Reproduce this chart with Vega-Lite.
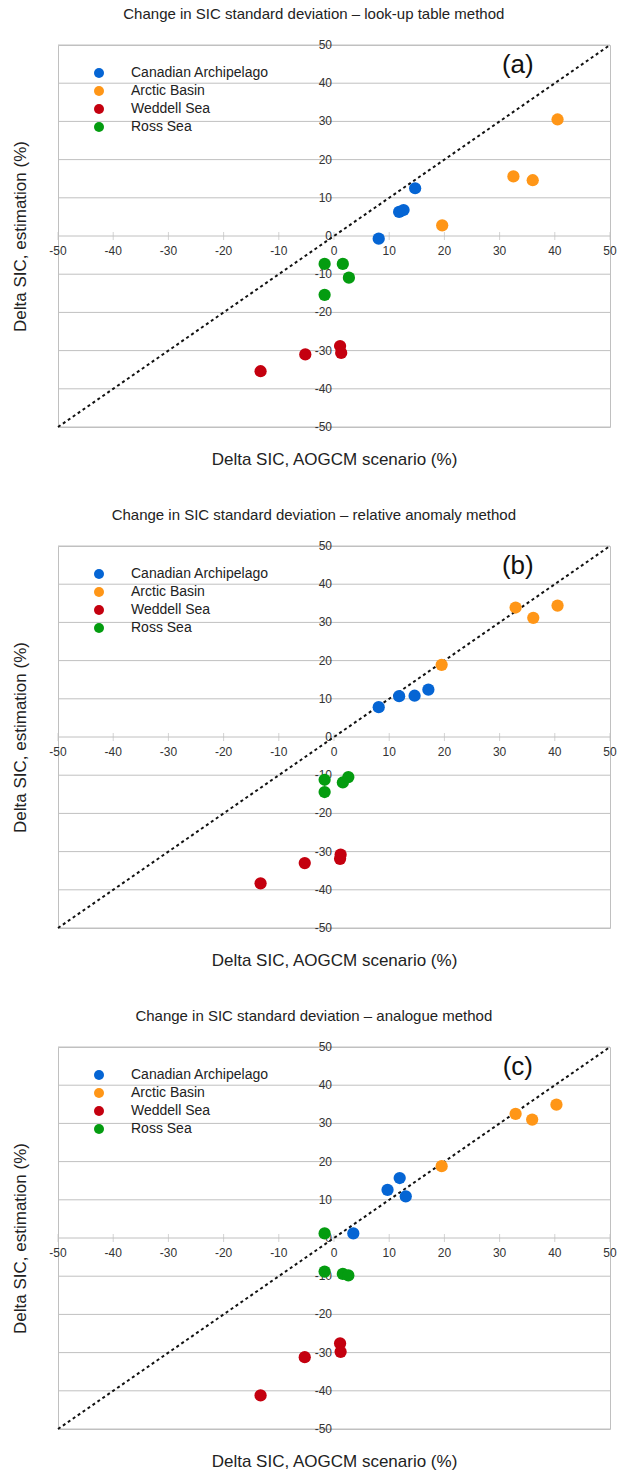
{
  "$schema": "https://vega.github.io/schema/vega-lite/v6.json",
  "padding": {"left": 10, "top": 6, "right": 5, "bottom": 0},
  "background": "white",
  "spacing": 39,
  "config": {
    "font": "Liberation Sans",
    "view": {"stroke": "#c0c0c0", "strokeWidth": 1},
    "title": {"fontSize": 15, "fontWeight": "normal", "color": "#222222", "frame": "bounds", "anchor": "middle", "offset": 17},
    "legend": {"labelFontSize": 14, "labelColor": "#222222", "symbolSize": 100, "labelOffset": 25, "rowPadding": 4, "symbolType": "circle", "symbolStrokeWidth": 0}
  },
  "datasets": {
    "pts": [
      {"panel": "a", "region": "Canadian Archipelago", "x": 14.7, "y": 12.5},
      {"panel": "a", "region": "Canadian Archipelago", "x": 11.8, "y": 6.3},
      {"panel": "a", "region": "Canadian Archipelago", "x": 12.6, "y": 6.8},
      {"panel": "a", "region": "Canadian Archipelago", "x": 8.1, "y": -0.7},
      {"panel": "a", "region": "Arctic Basin", "x": 40.5, "y": 30.5},
      {"panel": "a", "region": "Arctic Basin", "x": 32.5, "y": 15.6},
      {"panel": "a", "region": "Arctic Basin", "x": 36.0, "y": 14.6},
      {"panel": "a", "region": "Arctic Basin", "x": 19.6, "y": 2.8},
      {"panel": "a", "region": "Weddell Sea", "x": 1.1, "y": -28.8},
      {"panel": "a", "region": "Weddell Sea", "x": 1.3, "y": -30.6},
      {"panel": "a", "region": "Weddell Sea", "x": -5.2, "y": -31.0},
      {"panel": "a", "region": "Weddell Sea", "x": -13.3, "y": -35.4},
      {"panel": "a", "region": "Ross Sea", "x": -1.7, "y": -7.3},
      {"panel": "a", "region": "Ross Sea", "x": 1.6, "y": -7.3},
      {"panel": "a", "region": "Ross Sea", "x": 2.7, "y": -10.9},
      {"panel": "a", "region": "Ross Sea", "x": -1.7, "y": -15.4},
      {"panel": "b", "region": "Canadian Archipelago", "x": 8.1, "y": 7.8},
      {"panel": "b", "region": "Canadian Archipelago", "x": 11.8, "y": 10.7},
      {"panel": "b", "region": "Canadian Archipelago", "x": 14.6, "y": 10.8},
      {"panel": "b", "region": "Canadian Archipelago", "x": 17.1, "y": 12.4},
      {"panel": "b", "region": "Arctic Basin", "x": 19.5, "y": 18.9},
      {"panel": "b", "region": "Arctic Basin", "x": 32.9, "y": 33.9},
      {"panel": "b", "region": "Arctic Basin", "x": 36.1, "y": 31.2},
      {"panel": "b", "region": "Arctic Basin", "x": 40.5, "y": 34.4},
      {"panel": "b", "region": "Weddell Sea", "x": 1.2, "y": -30.8},
      {"panel": "b", "region": "Weddell Sea", "x": 1.1, "y": -31.9},
      {"panel": "b", "region": "Weddell Sea", "x": -5.3, "y": -33.0},
      {"panel": "b", "region": "Weddell Sea", "x": -13.3, "y": -38.3},
      {"panel": "b", "region": "Ross Sea", "x": -1.7, "y": -11.2},
      {"panel": "b", "region": "Ross Sea", "x": -1.7, "y": -14.4},
      {"panel": "b", "region": "Ross Sea", "x": 1.6, "y": -11.9},
      {"panel": "b", "region": "Ross Sea", "x": 2.6, "y": -10.5},
      {"panel": "c", "region": "Canadian Archipelago", "x": 3.5, "y": 1.2},
      {"panel": "c", "region": "Canadian Archipelago", "x": 9.7, "y": 12.6},
      {"panel": "c", "region": "Canadian Archipelago", "x": 11.9, "y": 15.7},
      {"panel": "c", "region": "Canadian Archipelago", "x": 13.0, "y": 10.9},
      {"panel": "c", "region": "Arctic Basin", "x": 19.5, "y": 18.8},
      {"panel": "c", "region": "Arctic Basin", "x": 32.9, "y": 32.5},
      {"panel": "c", "region": "Arctic Basin", "x": 35.9, "y": 31.0},
      {"panel": "c", "region": "Arctic Basin", "x": 40.3, "y": 34.9},
      {"panel": "c", "region": "Weddell Sea", "x": 1.1, "y": -27.6},
      {"panel": "c", "region": "Weddell Sea", "x": 1.2, "y": -29.8},
      {"panel": "c", "region": "Weddell Sea", "x": -5.3, "y": -31.2},
      {"panel": "c", "region": "Weddell Sea", "x": -13.3, "y": -41.2},
      {"panel": "c", "region": "Ross Sea", "x": -1.7, "y": 1.2},
      {"panel": "c", "region": "Ross Sea", "x": -1.7, "y": -8.8},
      {"panel": "c", "region": "Ross Sea", "x": 1.6, "y": -9.4},
      {"panel": "c", "region": "Ross Sea", "x": 2.6, "y": -9.8}
    ],
    "diag": [{"v": -50}, {"v": 50}],
    "ticks": [{"v": -50}, {"v": -40}, {"v": -30}, {"v": -20}, {"v": -10}, {"v": 0}, {"v": 10}, {"v": 20}, {"v": 30}, {"v": 40}, {"v": 50}],
    "one": [{"k": 1}]
  },
  "vconcat": [
    {
      "width": 552, "height": 382,
      "title": "Change in SIC standard deviation – look-up table method",
      "layer": [
        {"data": {"name": "ticks"}, "mark": {"type": "rule", "color": "#c0c0c0", "strokeWidth": 1},
         "encoding": {"y": {"field": "v", "type": "quantitative", "scale": {"domain": [-50, 50], "nice": false},
           "axis": {"title": "Delta SIC, estimation (%)", "titleFontSize": 17, "titleFontWeight": "normal", "titleColor": "#222222", "titlePadding": 29, "labels": false, "ticks": false, "domain": false, "grid": false}},
           "x": {"datum": -50, "type": "quantitative", "scale": {"domain": [-50, 50], "nice": false},
           "axis": {"title": "Delta SIC, AOGCM scenario (%)", "titleFontSize": 17, "titleFontWeight": "normal", "titleColor": "#222222", "titlePadding": 24, "labels": false, "ticks": false, "domain": false, "grid": false}},
           "x2": {"datum": 50}}},
        {"mark": {"type": "rule", "color": "#c0c0c0", "strokeWidth": 1},
         "encoding": {"x": {"datum": 0, "type": "quantitative"}, "y": {"datum": -50, "type": "quantitative"}, "y2": {"datum": 50}}},
        {"data": {"name": "ticks"}, "mark": {"type": "tick", "color": "#c0c0c0", "size": 8, "orient": "vertical"},
         "encoding": {"x": {"field": "v", "type": "quantitative"}, "y": {"datum": 0, "type": "quantitative"}}},
        {"data": {"name": "ticks"}, "mark": {"type": "text", "fontSize": 12, "color": "#333333", "dy": 15, "align": "center"},
         "encoding": {"x": {"field": "v", "type": "quantitative"}, "y": {"datum": 0, "type": "quantitative"}, "text": {"field": "v", "type": "nominal"}}},
        {"data": {"name": "ticks"}, "mark": {"type": "text", "fontSize": 12, "color": "#333333", "dx": -2, "align": "right", "baseline": "middle"},
         "encoding": {"y": {"field": "v", "type": "quantitative"}, "x": {"datum": 0, "type": "quantitative"}, "text": {"field": "v", "type": "nominal"}}},
        {"data": {"name": "diag"}, "mark": {"type": "line", "color": "#111111", "strokeWidth": 2, "strokeDash": [3, 3]},
         "encoding": {"x": {"field": "v", "type": "quantitative"}, "y": {"field": "v", "type": "quantitative"}}},
        {"data": {"name": "pts"}, "transform": [{"filter": "datum.panel == 'a'"}],
         "mark": {"type": "circle", "size": 150, "opacity": 1},
         "encoding": {"x": {"field": "x", "type": "quantitative"}, "y": {"field": "y", "type": "quantitative"},
           "color": {"field": "region", "type": "nominal", "scale": {"domain": ["Canadian Archipelago", "Arctic Basin", "Weddell Sea", "Ross Sea"], "range": ["#0565d4", "#ff9617", "#c4000f", "#049c10"]},
             "legend": {"title": null, "orient": "none", "legendX": 34, "legendY": 21}}}},
        {"data": {"name": "one"}, "mark": {"type": "text", "fontSize": 26, "color": "#111111", "text": "(a)"},
         "encoding": {"x": {"datum": 33.3, "type": "quantitative"}, "y": {"datum": 44.8, "type": "quantitative"}}}
      ]
    },
    {
      "width": 552, "height": 382,
      "title": "Change in SIC standard deviation – relative anomaly method",
      "layer": [
        {"data": {"name": "ticks"}, "mark": {"type": "rule", "color": "#c0c0c0", "strokeWidth": 1},
         "encoding": {"y": {"field": "v", "type": "quantitative", "scale": {"domain": [-50, 50], "nice": false},
           "axis": {"title": "Delta SIC, estimation (%)", "titleFontSize": 17, "titleFontWeight": "normal", "titleColor": "#222222", "titlePadding": 29, "labels": false, "ticks": false, "domain": false, "grid": false}},
           "x": {"datum": -50, "type": "quantitative", "scale": {"domain": [-50, 50], "nice": false},
           "axis": {"title": "Delta SIC, AOGCM scenario (%)", "titleFontSize": 17, "titleFontWeight": "normal", "titleColor": "#222222", "titlePadding": 24, "labels": false, "ticks": false, "domain": false, "grid": false}},
           "x2": {"datum": 50}}},
        {"mark": {"type": "rule", "color": "#c0c0c0", "strokeWidth": 1},
         "encoding": {"x": {"datum": 0, "type": "quantitative"}, "y": {"datum": -50, "type": "quantitative"}, "y2": {"datum": 50}}},
        {"data": {"name": "ticks"}, "mark": {"type": "tick", "color": "#c0c0c0", "size": 8, "orient": "vertical"},
         "encoding": {"x": {"field": "v", "type": "quantitative"}, "y": {"datum": 0, "type": "quantitative"}}},
        {"data": {"name": "ticks"}, "mark": {"type": "text", "fontSize": 12, "color": "#333333", "dy": 15, "align": "center"},
         "encoding": {"x": {"field": "v", "type": "quantitative"}, "y": {"datum": 0, "type": "quantitative"}, "text": {"field": "v", "type": "nominal"}}},
        {"data": {"name": "ticks"}, "mark": {"type": "text", "fontSize": 12, "color": "#333333", "dx": -2, "align": "right", "baseline": "middle"},
         "encoding": {"y": {"field": "v", "type": "quantitative"}, "x": {"datum": 0, "type": "quantitative"}, "text": {"field": "v", "type": "nominal"}}},
        {"data": {"name": "diag"}, "mark": {"type": "line", "color": "#111111", "strokeWidth": 2, "strokeDash": [3, 3]},
         "encoding": {"x": {"field": "v", "type": "quantitative"}, "y": {"field": "v", "type": "quantitative"}}},
        {"data": {"name": "pts"}, "transform": [{"filter": "datum.panel == 'b'"}],
         "mark": {"type": "circle", "size": 150, "opacity": 1},
         "encoding": {"x": {"field": "x", "type": "quantitative"}, "y": {"field": "y", "type": "quantitative"},
           "color": {"field": "region", "type": "nominal", "scale": {"domain": ["Canadian Archipelago", "Arctic Basin", "Weddell Sea", "Ross Sea"], "range": ["#0565d4", "#ff9617", "#c4000f", "#049c10"]},
             "legend": {"title": null, "orient": "none", "legendX": 34, "legendY": 21}}}},
        {"data": {"name": "one"}, "mark": {"type": "text", "fontSize": 26, "color": "#111111", "text": "(b)"},
         "encoding": {"x": {"datum": 33.3, "type": "quantitative"}, "y": {"datum": 44.8, "type": "quantitative"}}}
      ]
    },
    {
      "width": 552, "height": 382,
      "title": "Change in SIC standard deviation – analogue method",
      "layer": [
        {"data": {"name": "ticks"}, "mark": {"type": "rule", "color": "#c0c0c0", "strokeWidth": 1},
         "encoding": {"y": {"field": "v", "type": "quantitative", "scale": {"domain": [-50, 50], "nice": false},
           "axis": {"title": "Delta SIC, estimation (%)", "titleFontSize": 17, "titleFontWeight": "normal", "titleColor": "#222222", "titlePadding": 29, "labels": false, "ticks": false, "domain": false, "grid": false}},
           "x": {"datum": -50, "type": "quantitative", "scale": {"domain": [-50, 50], "nice": false},
           "axis": {"title": "Delta SIC, AOGCM scenario (%)", "titleFontSize": 17, "titleFontWeight": "normal", "titleColor": "#222222", "titlePadding": 24, "labels": false, "ticks": false, "domain": false, "grid": false}},
           "x2": {"datum": 50}}},
        {"mark": {"type": "rule", "color": "#c0c0c0", "strokeWidth": 1},
         "encoding": {"x": {"datum": 0, "type": "quantitative"}, "y": {"datum": -50, "type": "quantitative"}, "y2": {"datum": 50}}},
        {"data": {"name": "ticks"}, "mark": {"type": "tick", "color": "#c0c0c0", "size": 8, "orient": "vertical"},
         "encoding": {"x": {"field": "v", "type": "quantitative"}, "y": {"datum": 0, "type": "quantitative"}}},
        {"data": {"name": "ticks"}, "mark": {"type": "text", "fontSize": 12, "color": "#333333", "dy": 15, "align": "center"},
         "encoding": {"x": {"field": "v", "type": "quantitative"}, "y": {"datum": 0, "type": "quantitative"}, "text": {"field": "v", "type": "nominal"}}},
        {"data": {"name": "ticks"}, "mark": {"type": "text", "fontSize": 12, "color": "#333333", "dx": -2, "align": "right", "baseline": "middle"},
         "encoding": {"y": {"field": "v", "type": "quantitative"}, "x": {"datum": 0, "type": "quantitative"}, "text": {"field": "v", "type": "nominal"}}},
        {"data": {"name": "diag"}, "mark": {"type": "line", "color": "#111111", "strokeWidth": 2, "strokeDash": [3, 3]},
         "encoding": {"x": {"field": "v", "type": "quantitative"}, "y": {"field": "v", "type": "quantitative"}}},
        {"data": {"name": "pts"}, "transform": [{"filter": "datum.panel == 'c'"}],
         "mark": {"type": "circle", "size": 150, "opacity": 1},
         "encoding": {"x": {"field": "x", "type": "quantitative"}, "y": {"field": "y", "type": "quantitative"},
           "color": {"field": "region", "type": "nominal", "scale": {"domain": ["Canadian Archipelago", "Arctic Basin", "Weddell Sea", "Ross Sea"], "range": ["#0565d4", "#ff9617", "#c4000f", "#049c10"]},
             "legend": {"title": null, "orient": "none", "legendX": 34, "legendY": 21}}}},
        {"data": {"name": "one"}, "mark": {"type": "text", "fontSize": 26, "color": "#111111", "text": "(c)"},
         "encoding": {"x": {"datum": 33.3, "type": "quantitative"}, "y": {"datum": 44.8, "type": "quantitative"}}}
      ]
    }
  ],
  "resolve": {"legend": {"color": "independent"}, "scale": {"color": "independent"}}
}
